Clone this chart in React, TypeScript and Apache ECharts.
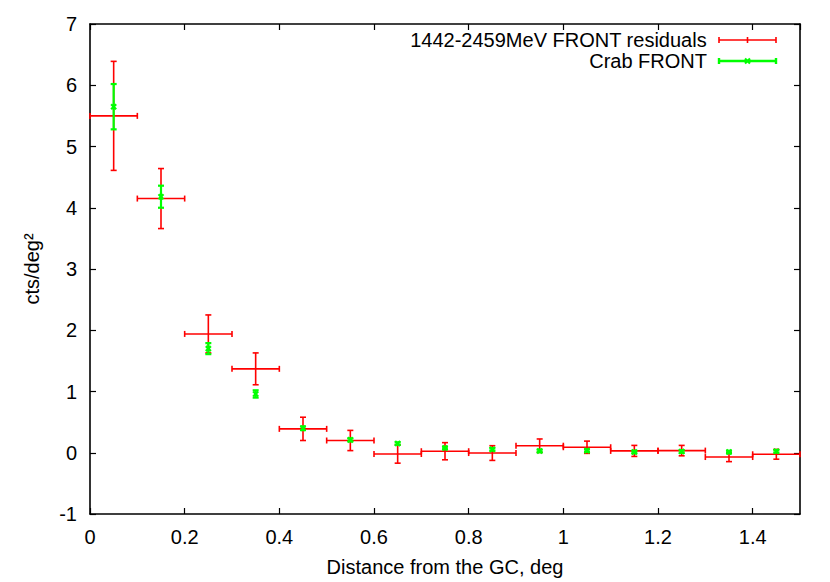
import React, { useEffect, useRef } from "react";
import * as echarts from "echarts";

// Bin centers (deg) and half-widths
const binCenters = [0.05, 0.15, 0.25, 0.35, 0.45, 0.55, 0.65, 0.75, 0.85, 0.95, 1.05, 1.15, 1.25, 1.35, 1.45];
const binHalfWidths = [0.05, 0.05, 0.05, 0.05, 0.05, 0.05, 0.05, 0.05, 0.05, 0.05, 0.05, 0.05, 0.05, 0.05, 0.05];

// 1442-2459MeV FRONT residuals
const residualValues = [5.5, 4.15, 1.94, 1.37, 0.39, 0.2, -0.02, 0.025, -0.005, 0.115, 0.09, 0.03, 0.035, -0.07, -0.025];
const residualErrors = [0.89, 0.49, 0.31, 0.26, 0.19, 0.165, 0.15, 0.14, 0.12, 0.11, 0.1, 0.09, 0.085, 0.075, 0.08];

// Crab FRONT
const crabValues = [5.65, 4.18, 1.7, 0.96, 0.4, 0.21, 0.15, 0.078, 0.055, 0.03, 0.035, 0.013, 0.02, 0.013, 0.024];
const crabErrors = [0.37, 0.18, 0.09, 0.06, 0.03, 0.025, 0.02, 0.02, 0.02, 0.02, 0.02, 0.02, 0.02, 0.02, 0.02];

const seriesNames = ["1442-2459MeV FRONT residuals", "Crab FRONT"];
const xTitle = "Distance from the GC, deg";
const yTitle = "cts/deg²";

const RED = "#ff0000";
const GREEN = "#00ff00";
const FONT = "'Liberation Sans', Arial, Helvetica, sans-serif";
const FS = 20;

export default function App() {
  const ref = useRef<HTMLDivElement>(null);

  useEffect(() => {
    if (!ref.current) return;
    const chart = echarts.init(ref.current, null, { renderer: "svg" });

    const redData = binCenters.map((x, i) => [x, residualValues[i], binHalfWidths[i], residualErrors[i]]);
    const greenData = binCenters.map((x, i) => [x, crabValues[i], crabErrors[i]]);

    const cap = 3;

    const axisCommon = {
      axisLine: { show: true, onZero: false, lineStyle: { color: "#000", width: 1.6 } },
      axisTick: { show: true, inside: true, length: 6, lineStyle: { color: "#000", width: 1.2 } },
      splitLine: { show: false },
    };

    const option: any = {
      animation: false,
      backgroundColor: "#fff",
      textStyle: { fontFamily: FONT },
      grid: { left: 90, right: 30, top: 24, bottom: 67, containLabel: false },
      xAxis: [
        {
          type: "value",
          min: 0,
          max: 1.5,
          interval: 0.2,
          position: "bottom",
          name: xTitle,
          nameLocation: "middle",
          nameGap: 43,
          nameTextStyle: { fontSize: FS, color: "#000", fontFamily: FONT },
          axisLabel: { fontSize: FS, color: "#000", margin: 13, showMaxLabel: false, fontFamily: FONT },
          ...axisCommon,
        },
        {
          type: "value",
          min: 0,
          max: 1.5,
          interval: 0.2,
          position: "top",
          axisLabel: { show: false },
          ...axisCommon,
        },
      ],
      yAxis: [
        {
          type: "value",
          min: -1,
          max: 7,
          interval: 1,
          position: "left",
          name: yTitle,
          nameLocation: "middle",
          nameGap: 48,
          nameRotate: 90,
          nameTextStyle: { fontSize: FS, color: "#000", fontFamily: FONT },
          axisLabel: { fontSize: FS, color: "#000", margin: 13, fontFamily: FONT },
          ...axisCommon,
        },
        {
          type: "value",
          min: -1,
          max: 7,
          interval: 1,
          position: "right",
          axisLabel: { show: false },
          ...axisCommon,
        },
      ],
      series: [
        {
          name: seriesNames[0],
          type: "custom",
          xAxisIndex: 0,
          yAxisIndex: 0,
          data: redData,
          clip: false,
          renderItem: (params: any, api: any) => {
            const x = api.value(0);
            const y = api.value(1);
            const dx = api.value(2);
            const dy = api.value(3);
            const c = api.coord([x, y]);
            const l = api.coord([x - dx, y]);
            const r = api.coord([x + dx, y]);
            const t = api.coord([x, y + dy]);
            const b = api.coord([x, y - dy]);
            const style = { stroke: RED, lineWidth: 1.6, fill: null };
            const ln = (x1: number, y1: number, x2: number, y2: number) => ({
              type: "line",
              shape: { x1, y1, x2, y2 },
              style,
            });
            return {
              type: "group",
              children: [
                ln(l[0], c[1], r[0], c[1]),
                ln(l[0], c[1] - cap, l[0], c[1] + cap),
                ln(r[0], c[1] - cap, r[0], c[1] + cap),
                ln(c[0], t[1], c[0], b[1]),
                ln(c[0] - cap, t[1], c[0] + cap, t[1]),
                ln(c[0] - cap, b[1], c[0] + cap, b[1]),
              ],
            };
          },
        },
        {
          name: seriesNames[1],
          type: "custom",
          xAxisIndex: 0,
          yAxisIndex: 0,
          data: greenData,
          clip: false,
          renderItem: (params: any, api: any) => {
            const x = api.value(0);
            const y = api.value(1);
            const dy = api.value(2);
            const c = api.coord([x, y]);
            const t = api.coord([x, y + dy]);
            const b = api.coord([x, y - dy]);
            const style = { stroke: GREEN, lineWidth: 2.2, fill: null };
            const ln = (x1: number, y1: number, x2: number, y2: number) => ({
              type: "line",
              shape: { x1, y1, x2, y2 },
              style,
            });
            const m = 2.5;
            return {
              type: "group",
              children: [
                ln(c[0], t[1], c[0], b[1]),
                ln(c[0] - cap, t[1], c[0] + cap, t[1]),
                ln(c[0] - cap, b[1], c[0] + cap, b[1]),
                ln(c[0] - m, c[1] - m, c[0] + m, c[1] + m),
                ln(c[0] - m, c[1] + m, c[0] + m, c[1] - m),
              ],
            };
          },
        },
      ],
      graphic: [
        {
          type: "text",
          right: 830 - 707,
          top: 30,
          style: { text: seriesNames[0], font: `${FS}px ${FONT}`, fill: "#000" },
        },
        {
          type: "text",
          right: 830 - 707,
          top: 51,
          style: { text: seriesNames[1], font: `${FS}px ${FONT}`, fill: "#000" },
        },
        { type: "line", shape: { x1: 719, y1: 40, x2: 776, y2: 40 }, style: { stroke: RED, lineWidth: 1.6 } },
        { type: "line", shape: { x1: 719, y1: 37, x2: 719, y2: 43 }, style: { stroke: RED, lineWidth: 1.6 } },
        { type: "line", shape: { x1: 776, y1: 37, x2: 776, y2: 43 }, style: { stroke: RED, lineWidth: 1.6 } },
        { type: "line", shape: { x1: 747.5, y1: 37, x2: 747.5, y2: 43 }, style: { stroke: RED, lineWidth: 1.6 } },
        { type: "line", shape: { x1: 719, y1: 61, x2: 776, y2: 61 }, style: { stroke: GREEN, lineWidth: 2.4 } },
        { type: "line", shape: { x1: 719, y1: 58, x2: 719, y2: 64 }, style: { stroke: GREEN, lineWidth: 2.4 } },
        { type: "line", shape: { x1: 776, y1: 58, x2: 776, y2: 64 }, style: { stroke: GREEN, lineWidth: 2.4 } },
        { type: "line", shape: { x1: 745, y1: 58.5, x2: 750, y2: 63.5 }, style: { stroke: GREEN, lineWidth: 2.2 } },
        { type: "line", shape: { x1: 745, y1: 63.5, x2: 750, y2: 58.5 }, style: { stroke: GREEN, lineWidth: 2.2 } },
      ],
    };

    chart.setOption(option);
    return () => chart.dispose();
  }, []);

  return (
    <div
      ref={ref}
      style={{ position: "fixed", left: 0, top: 0, width: 830, height: 582, background: "#fff" }}
    />
  );
}
